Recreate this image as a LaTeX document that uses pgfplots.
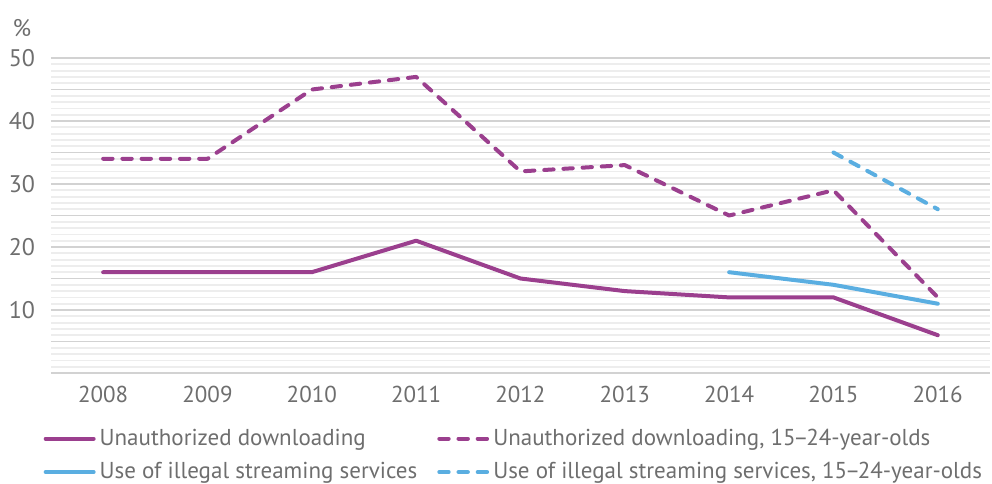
\documentclass[border=0pt]{standalone}
\usepackage{fontspec}
\setmainfont{PT Sans}
\usepackage{pgfplots}
\pgfplotsset{compat=1.18}
\definecolor{purp}{HTML}{9B3F8E}
\definecolor{lblue}{HTML}{5AAEE1}
\definecolor{txt}{HTML}{6E6E6E}
\definecolor{majg}{HTML}{D2D2D2}
\definecolor{ming}{HTML}{EDEDED}
\begin{document}
\begin{tikzpicture}
\useasboundingbox (-25.5pt,-55pt) rectangle (470.5pt,186.5pt);
\begin{axis}[
  scale only axis,
  width=469.5pt, height=157.5pt,
  xmin=2007.5, xmax=2016.5,
  ymin=0, ymax=50,
  axis line style={draw=none},
  xtick={2008,...,2016},
  xticklabel style={/pgf/number format/1000 sep={}},
  ytick={10,20,30,40,50},
  extra y ticks={0,5,15,25,35,45},
  extra y tick labels={},
  extra y tick style={grid=major, major grid style={majg, line width=0.9pt}},
  minor ytick={1,2,...,49},
  ymajorgrids, yminorgrids,
  major grid style={majg, line width=0.9pt},
  minor grid style={ming, line width=0.9pt},
  major tick length=0pt, minor tick length=0pt,
  tick style={draw=none},
  /pgf/number format/assume math mode=true,
  ticklabel style={text=txt},
  yticklabel style={font=\fontsize{12}{14}\selectfont, xshift=-4.5pt},
  xticklabel style={font=\fontsize{11.5}{14}\selectfont, yshift=-3pt},
  clip=false,
  legend columns=2,
  legend style={at={(axis description cs:-0.0125,-0.151)}, anchor=north west, draw=none, fill=none,
    font=\fontsize{11.5}{14}\selectfont, text=txt, row sep=3pt, inner sep=2pt,
    /tikz/every even column/.append style={column sep=8pt}},
  legend cell align=left,
  legend image code/.code={\draw[#1] (0pt,0pt) -- (24pt,0pt);},
  every axis plot/.append style={line width=2pt, line join=round},
]
\addplot[purp, line cap=round] coordinates {(2008,16) (2009,16) (2010,16) (2011,21) (2012,15) (2013,13) (2014,12) (2015,12) (2016,6)};
\addlegendentry{Unauthorized downloading}
\addplot[purp, line cap=round, dash pattern=on 4.7pt off 4.9pt] coordinates {(2008,34) (2009,34) (2010,45) (2011,47) (2012,32) (2013,33) (2014,25) (2015,29) (2016,12)};
\addlegendentry{Unauthorized downloading, 15\kern-0.1em\textendash\kern-0.1em24-year-olds}
\addplot[lblue, line cap=round] coordinates {(2014,16) (2015,14) (2016,11)};
\addlegendentry{Use of illegal streaming services}
\addplot[lblue, line cap=round, dash pattern=on 4.7pt off 4.9pt] coordinates {(2015,35) (2016,26)};
\addlegendentry{Use of illegal streaming services, 15\kern-0.1em\textendash\kern-0.1em24-year-olds}
\node[anchor=center, text=txt, font=\fontsize{12}{14}\selectfont] at ([xshift=-14.5pt, yshift=15pt]axis cs:2007.5,50) {\%};
\end{axis}
\end{tikzpicture}
\end{document}
